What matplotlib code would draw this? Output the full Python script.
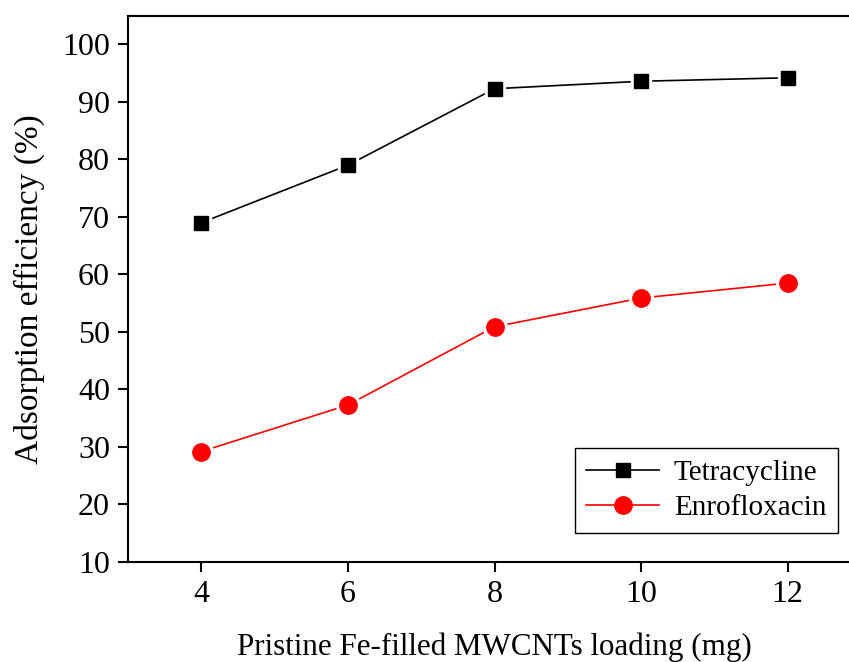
import numpy as np
import matplotlib.pyplot as plt

plt.rcParams['font.family'] = ['Liberation Serif', 'DejaVu Serif']
plt.rcParams['mathtext.fontset'] = 'stix'

loading = [4, 6, 8, 10, 12]
tetracycline = [69.0, 79.0, 92.3, 93.6, 94.2]
enrofloxacin = [29.2, 37.3, 50.9, 55.9, 58.5]

fig = plt.figure(figsize=(8.49, 6.62), dpi=100)
ax = fig.add_axes([0.1508, 0.1511, 0.8633, 0.8252])

# lines first, then white halos so the line stops short of each marker
ax.plot(loading, tetracycline, color='black', lw=1.2, zorder=2)
ax.plot(loading, enrofloxacin, color='red', lw=1.2, zorder=2)
ax.plot(loading, tetracycline, ls='none', marker='s', ms=15, color='white', zorder=3)
ax.plot(loading, enrofloxacin, ls='none', marker='o', ms=17, color='white', zorder=3)
ax.plot(loading, tetracycline, ls='none', marker='s', ms=10.5, color='black', zorder=4)
ax.plot(loading, enrofloxacin, ls='none', marker='o', ms=12.5, color='red', zorder=4)

h1, = ax.plot([], [], color='black', lw=1.2, marker='s', ms=10.5, label='Tetracycline')
h2, = ax.plot([], [], color='red', lw=1.2, marker='o', ms=12.5, label='Enrofloxacin')

ax.set_xlim(3, 13)
ax.set_ylim(10, 105)
ax.set_xticks([4, 6, 8, 10, 12])
ax.set_yticks(np.arange(10, 101, 10))
ax.tick_params(direction='out', length=7, width=1.5, labelsize=23, pad=6)
for s in ax.spines.values():
    s.set_linewidth(1.5)

ax.set_xlabel('Pristine Fe-filled MWCNTs loading (mg)', fontsize=22.3, labelpad=17)
ax.set_ylabel('Adsorption efficiency (%)', fontsize=24, labelpad=12)

leg = ax.legend(handles=[h1, h2], loc='lower right', bbox_to_anchor=(0.987, 0.195),
                bbox_transform=fig.transFigure, borderaxespad=0, fontsize=21,
                fancybox=False, edgecolor='black', framealpha=1, handlelength=2.5,
                handletextpad=0.5, borderpad=0.4, labelspacing=0.3)
leg.get_frame().set_linewidth(1.0)

fig.savefig('out.png', dpi=100)
